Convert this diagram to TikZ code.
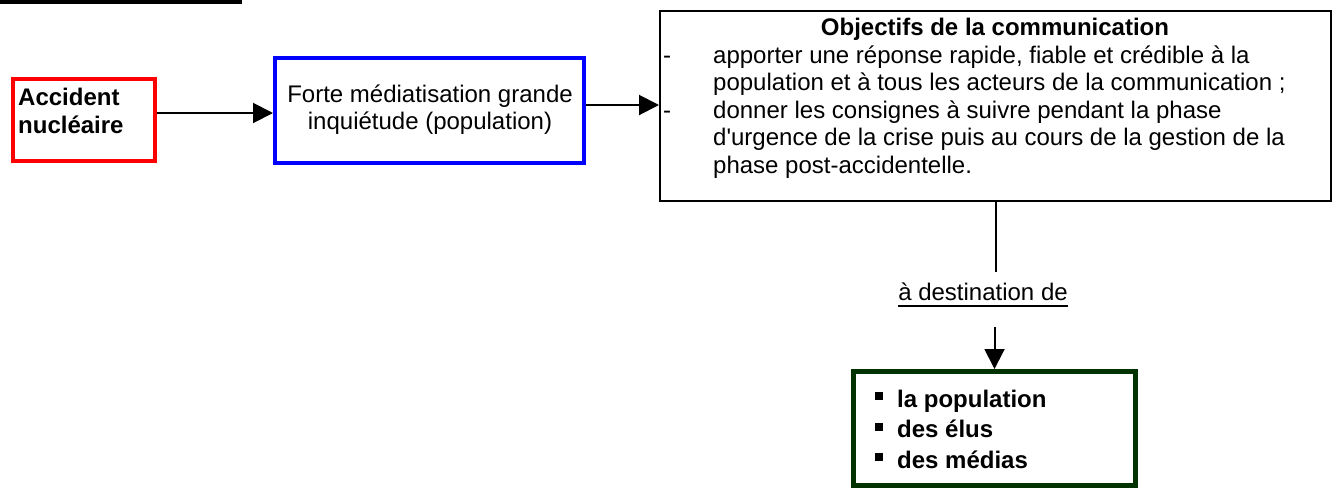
\documentclass[tikz,border=0pt]{standalone}
\usepackage{fontspec}
\setmainfont{Liberation Sans}
\usetikzlibrary{arrows.meta}
\definecolor{boxred}{RGB}{255,0,0}
\definecolor{boxblue}{RGB}{0,0,255}
\definecolor{boxgreen}{RGB}{0,51,0}
\begin{document}
\begin{tikzpicture}[x=1pt,y=-1pt,
  frame/.style={draw, rectangle, inner sep=0pt},
  txt/.style={inner sep=0pt, font=\fontsize{24}{27.5}\selectfont},
  conn/.style={line width=2pt, -{Triangle[length=20pt,width=20pt]}},
  plain/.style={line width=2pt}]
\useasboundingbox (0,0) rectangle (1335,488);

% heading rule
\fill (0,0) rectangle (242,4);

% boxes
\node[frame, draw=boxred, line width=4pt, minimum width=142pt, minimum height=82pt] (red) at (83.7,120) {};
\node[frame, draw=boxblue, line width=4pt, minimum width=309pt, minimum height=105pt] (blue) at (429.5,110.5) {};
\node[frame, draw=black, line width=2pt, minimum width=671pt, minimum height=190pt] (obj) at (995.5,106) {};
\node[frame, draw=boxgreen, line width=5pt, minimum width=282pt, minimum height=114pt] (green) at (994.5,428.5) {};

% texts
\node[txt, anchor=base west] (redtext) at (18,105)
  {\fontsize{24}{28}\selectfont\bfseries\begin{tabular}[t]{@{}l@{}}Accident\\nucléaire\end{tabular}};
\node[txt, anchor=base] (bluetext) at (430,102)
  {\begin{tabular}[t]{@{}c@{}}Forte médiatisation grande\\inquiétude (population)\end{tabular}};
\node[txt, anchor=base] (objtitle) at (995,35.5) {\bfseries Objectifs de la communication};
\node[txt, anchor=base west] (objtext) at (663,63)
  {\begin{tabular}[t]{@{}p{50pt}@{}l@{}}
   -&apporter une réponse rapide, fiable et crédible à la\\
    &population et à tous les acteurs de la communication ;\\
   -&donner les consignes à suivre pendant la phase\\
    &d\textquotesingle urgence de la crise puis au cours de la gestion de la\\
    &phase post-accidentelle.
  \end{tabular}};
\node[txt, anchor=base] (dest) at (983,300) {à destination de};
\draw[line width=1.5pt] ([yshift=-6pt]dest.base west) -- ([yshift=-6pt]dest.base east);
\node[txt, anchor=base west] (greentext) at (875,407)
  {\fontsize{24}{30.5}\selectfont\bfseries\begin{tabular}[t]{@{}p{22pt}@{}l@{}}
   \rule[7pt]{8pt}{8pt}&la population\\
   \rule[7pt]{8pt}{8pt}&des élus\\
   \rule[7pt]{8pt}{8pt}&des médias
  \end{tabular}};

% connectors
\draw[conn] ([yshift=7pt]red.east) coordinate (a1) -- (a1 -| blue.west);
\draw[conn] ([yshift=5.5pt]blue.east) coordinate (a2) -- (a2 -| obj.west);
\path (obj.south) ++(0,70) coordinate (lineend);
\draw[plain] (obj.south) -- (lineend);
\path (green.north) ++(0,-42) coordinate (arrstart);
\draw[conn] (arrstart) -- (green.north);
\end{tikzpicture}
\end{document}
